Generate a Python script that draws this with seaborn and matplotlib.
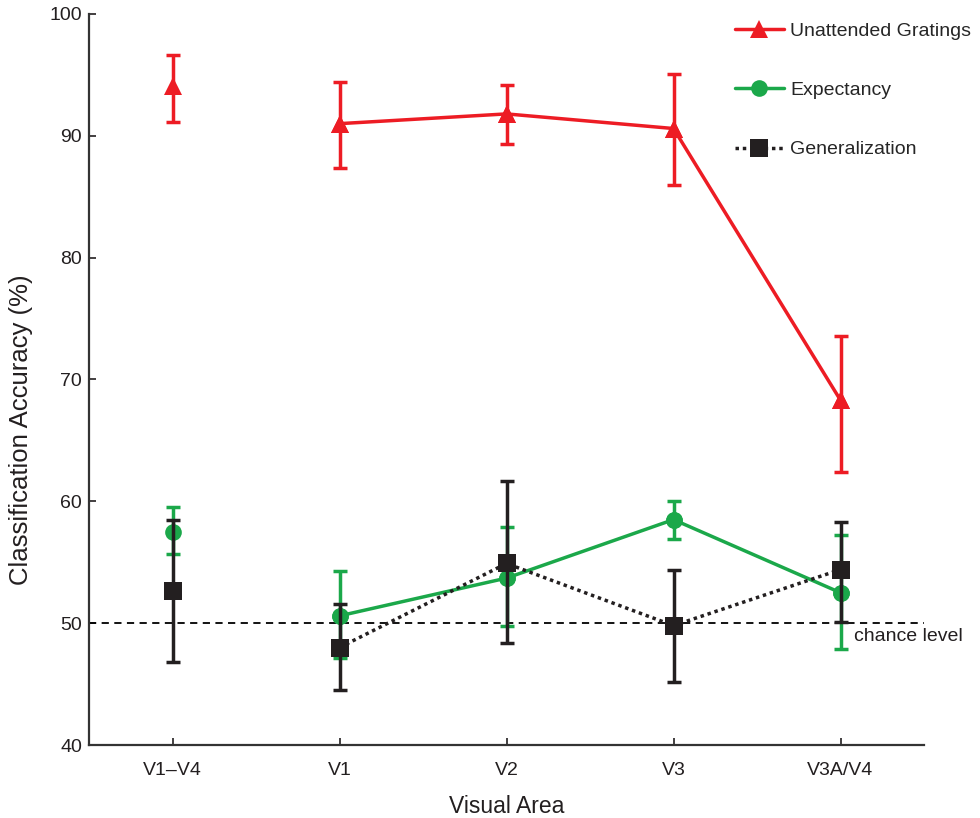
import matplotlib
matplotlib.use("Agg")
import matplotlib.pyplot as plt
import seaborn as sns
import numpy as np
import pandas as pd

areas = ["V1\u2013V4", "V1", "V2", "V3", "V3A/V4"]

unattended = [94.1, 91.0, 91.8, 90.6, 68.3]
unatt_lo = [91.1, 87.4, 89.3, 86.0, 62.4]
unatt_hi = [96.6, 94.4, 94.2, 95.1, 73.6]

expectancy = [57.5, 50.6, 53.7, 58.5, 52.5]
exp_lo = [55.7, 47.1, 49.8, 56.9, 47.9]
exp_hi = [59.5, 54.3, 57.9, 60.0, 57.2]

generalization = [52.6, 48.0, 54.9, 49.8, 54.4]
gen_lo = [46.8, 44.5, 48.4, 45.2, 50.1]
gen_hi = [58.5, 51.6, 61.7, 54.4, 58.3]

chance = 50

sns.set_theme(style="ticks")
plt.rcParams["font.family"] = ["Liberation Sans", "DejaVu Sans"]

RED = "#ED1C24"
GREEN = "#1BA84A"
BLACK = "#231F20"

fig = plt.figure(figsize=(9.8, 8.18), dpi=100)
ax = fig.add_axes([89 / 980, 73 / 818, 835 / 980, 731 / 818])

pos = np.arange(len(areas))

series = [
    ("Unattended Gratings", unattended, unatt_lo, unatt_hi, RED, "^", 13, "-", 10),
    ("Expectancy", expectancy, exp_lo, exp_hi, GREEN, "o", 12, "-", 4),
    ("Generalization", generalization, gen_lo, gen_hi, BLACK, "s", 13, (0, (1, 1.1)), 6),
]

for label, vals, lo, hi, col, mk, ms, ls, z in series:
    vals = np.asarray(vals)
    df = pd.DataFrame({"x": pos[1:], "y": vals[1:]})
    sns.lineplot(data=df, x="x", y="y", ax=ax, color=col, lw=2.5, linestyle=ls,
                 marker=mk, markersize=ms, markeredgewidth=0, label=label,
                 zorder=z)
    yerr = np.vstack([vals - np.asarray(lo), np.asarray(hi) - vals])
    ax.errorbar(pos, vals, yerr=yerr, fmt="none", ecolor=col, elinewidth=2.5,
                capsize=5, capthick=2.5, zorder=z + 1)
    ax.plot(pos, vals, linestyle="none", marker=mk, markersize=ms, color=col,
            markeredgewidth=0, zorder=z + 2)

ax.axhline(chance, color="black", lw=1.3, linestyle=(0, (4, 3)), zorder=1)
ax.text(4.08, 48.9, "chance level", fontsize=14, va="center", ha="left",
        color="#231F20")

ax.set_xlim(-0.5, 4.5)
ax.set_ylim(40, 100)
ax.set_xticks(pos)
ax.set_xticklabels(areas)
ax.set_yticks(np.arange(40, 101, 10))
ax.tick_params(axis="both", direction="in", length=5, width=1.2,
               labelsize=14, colors="#231F20")
ax.tick_params(axis="x", pad=12)
ax.tick_params(axis="y", pad=5)
for s in ["top", "right"]:
    ax.spines[s].set_visible(False)
for s in ["left", "bottom"]:
    ax.spines[s].set_linewidth(1.6)
    ax.spines[s].set_color("#333333")

ax.set_xlabel("Visual Area", fontsize=16.5, labelpad=12, color="#231F20")
ax.set_ylabel("Classification Accuracy (%)", fontsize=18.5, color="#231F20")
ax.yaxis.set_label_coords(-0.067, 0.431)

ax.legend(loc="upper left", bbox_to_anchor=(735 / 980, 1 - 22 / 818),
          bbox_transform=fig.transFigure, frameon=False, fontsize=14,
          handlelength=2.5, handletextpad=0.35, labelspacing=2.15,
          borderpad=0, borderaxespad=0, numpoints=1)

fig.savefig("out.png", dpi=100)
